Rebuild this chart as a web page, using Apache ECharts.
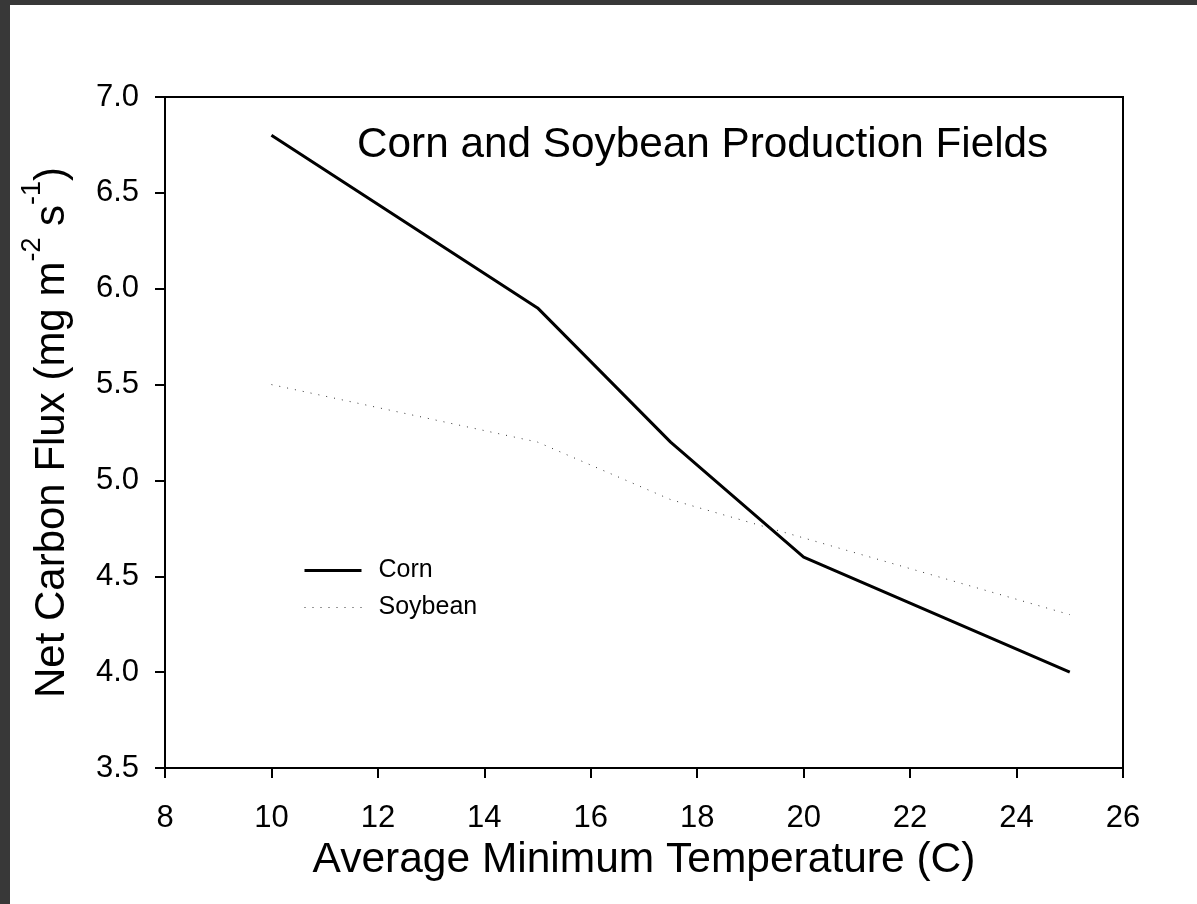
<!DOCTYPE html>
<html>
<head>
<meta charset="utf-8">
<script src="https://cdn.jsdelivr.net/npm/echarts@6/dist/echarts.min.js"></script>
<style>
  html, body { margin: 0; padding: 0; background: #383838; width: 1197px; height: 904px; overflow: hidden; }
  #chart { position: absolute; left: 10px; top: 5px; width: 1187px; height: 899px; background: #fff; }
</style>
</head>
<body>
<div id="chart"></div>
<script>
// Average minimum temperature (C)
const temps = [10, 15, 17.5, 20, 25];
// Net carbon flux (mg m-2 s-1)
const corn = [6.8, 5.9, 5.2, 4.6, 4.0];
const soybean = [5.5, 5.2, 4.9, 4.7, 4.3];

const xTicks = { min: 8, max: 26, step: 2 };
const yTicks = { min: 3.5, max: 7.0, step: 0.5 };

const FONT = '"Liberation Sans", Arial, sans-serif';

const cornLine = { color: '#000', width: 3 };
const soyLine = { color: '#333', width: 1, type: [1, 7] };

const chart = echarts.init(document.getElementById('chart'));
chart.setOption({
  animation: false,
  backgroundColor: '#fff',
  textStyle: { fontFamily: FONT, color: '#000' },
  title: {
    text: 'Corn and Soybean Production Fields',
    left: 342,
    top: 114,
    textStyle: { fontFamily: FONT, fontSize: 42.3, fontWeight: 'normal', color: '#000' }
  },
  legend: {
    orient: 'vertical',
    left: 288,
    top: 548,
    itemWidth: 57,
    itemHeight: 23,
    itemGap: 12,
    itemStyle: { opacity: 0 },
    textStyle: { fontFamily: FONT, fontSize: 25, color: '#000', padding: [0, 0, 0, 12] },
    data: [
      { name: 'Corn', lineStyle: cornLine },
      { name: 'Soybean', lineStyle: soyLine }
    ]
  },
  grid: {
    left: 155, top: 92, right: 74, bottom: 136,
    show: true, borderColor: '#000', borderWidth: 2, backgroundColor: 'transparent'
  },
  xAxis: {
    type: 'value',
    min: xTicks.min, max: xTicks.max, interval: xTicks.step,
    name: 'Average Minimum Temperature (C)',
    nameLocation: 'middle',
    nameGap: 70,
    nameTextStyle: { fontFamily: FONT, fontSize: 42.5, color: '#000' },
    axisLine: { show: true, onZero: false, lineStyle: { color: '#000', width: 2 } },
    axisTick: { show: true, inside: false, length: 10, lineStyle: { color: '#000', width: 2 } },
    axisLabel: { fontFamily: FONT, fontSize: 31, color: '#000', margin: 35 },
    splitLine: { show: false }
  },
  yAxis: {
    type: 'value',
    min: yTicks.min, max: yTicks.max, interval: yTicks.step,
    name: '{m|Net Carbon Flux (mg m}{s|-2}{m| s}{s|-1}{m|)}',
    nameLocation: 'middle',
    nameRotate: 90,
    nameGap: 92,
    nameTextStyle: {
      fontFamily: FONT, fontSize: 42, color: '#000',
      rich: {
        m: { fontFamily: FONT, fontSize: 42, color: '#000', lineHeight: 54, verticalAlign: 'bottom' },
        s: { fontFamily: FONT, fontSize: 27, color: '#000', lineHeight: 54, verticalAlign: 'top' }
      }
    },
    axisLine: { show: true, onZero: false, lineStyle: { color: '#000', width: 2 } },
    axisTick: { show: true, inside: false, length: 10, lineStyle: { color: '#000', width: 2 } },
    axisLabel: {
      fontFamily: FONT, fontSize: 31, color: '#000', margin: 26,
      formatter: v => v.toFixed(1)
    },
    splitLine: { show: false }
  },
  series: [
    {
      name: 'Corn',
      type: 'line',
      data: temps.map((t, i) => [t, corn[i]]),
      symbol: 'none',
      color: cornLine.color,
      lineStyle: cornLine
    },
    {
      name: 'Soybean',
      type: 'line',
      data: temps.map((t, i) => [t, soybean[i]]),
      symbol: 'none',
      color: soyLine.color,
      lineStyle: soyLine
    }
  ]
});
</script>
</body>
</html>
